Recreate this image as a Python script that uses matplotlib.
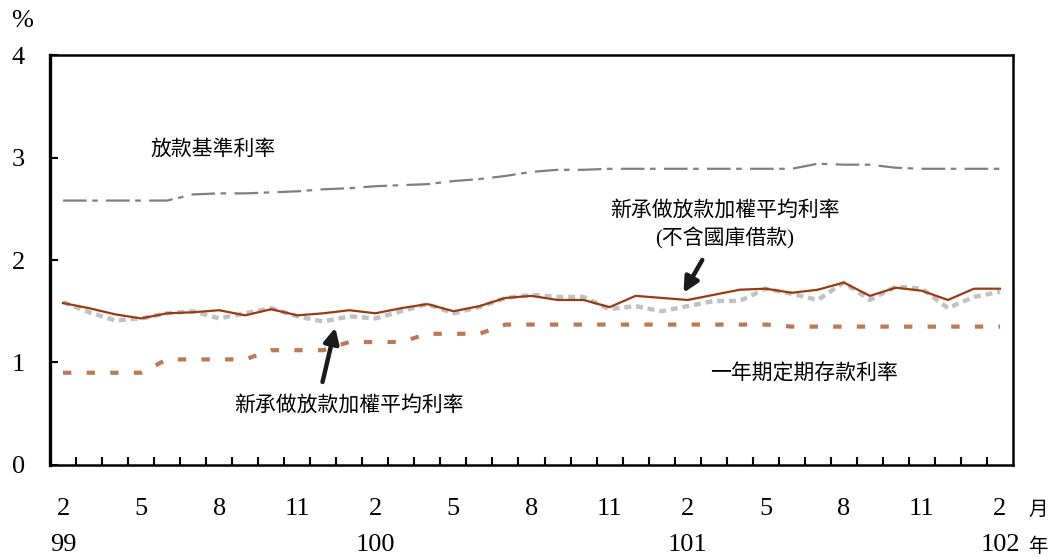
import matplotlib
matplotlib.use('Agg')
import matplotlib.pyplot as plt

plt.rcParams['font.family'] = ['Liberation Serif', 'Noto Sans CJK TC']
plt.rcParams['lines.scale_dashes'] = False

# monthly, 99/2 .. 102/2
months = list(range(37))
month_labels = ['2', '5', '8', '11'] * 4 + ['2']
year_labels = {0: '99', 12: '100', 24: '101', 36: '102'}

base_rate = [2.58, 2.58, 2.58, 2.58, 2.58, 2.64, 2.65, 2.65, 2.66, 2.67,
             2.69, 2.70, 2.72, 2.73, 2.74, 2.77, 2.79, 2.82, 2.86, 2.88,
             2.88, 2.89, 2.89, 2.89, 2.89, 2.89, 2.89, 2.89, 2.89, 2.94,
             2.93, 2.93, 2.90, 2.89, 2.89, 2.89, 2.89]
new_loan_ex = [1.58, 1.53, 1.47, 1.43, 1.48, 1.49, 1.51, 1.46, 1.52, 1.46,
               1.48, 1.51, 1.48, 1.53, 1.57, 1.50, 1.55, 1.63, 1.65, 1.61,
               1.61, 1.54, 1.65, 1.63, 1.61, 1.66, 1.71, 1.72, 1.68, 1.71,
               1.78, 1.65, 1.73, 1.70, 1.61, 1.72, 1.72]
new_loan = [1.59, 1.49, 1.41, 1.43, 1.48, 1.50, 1.43, 1.48, 1.53, 1.45,
            1.40, 1.45, 1.43, 1.50, 1.57, 1.48, 1.54, 1.63, 1.66, 1.64,
            1.64, 1.52, 1.55, 1.50, 1.55, 1.60, 1.60, 1.72, 1.67, 1.61,
            1.78, 1.61, 1.74, 1.72, 1.53, 1.64, 1.69]
deposit = [0.90, 0.90, 0.90, 0.90, 1.03, 1.03, 1.03, 1.03, 1.12, 1.12,
           1.12, 1.20, 1.20, 1.20, 1.28, 1.28, 1.28, 1.37, 1.37, 1.37,
           1.37, 1.37, 1.37, 1.37, 1.37, 1.37, 1.37, 1.37, 1.35, 1.35,
           1.35, 1.35, 1.35, 1.35, 1.35, 1.35, 1.35]

fig = plt.figure(figsize=(10.55, 5.58), dpi=100)
ax = fig.add_axes([0.0474, 0.1667, 0.9128, 0.7347])

ax.plot(months, base_rate, color='#7f7f7f', lw=1.6, dashes=[17, 4, 4, 6])
ax.plot(months, deposit, color='#c07850', lw=3.0, dashes=[6, 11])
ax.plot(months, new_loan, color='#c2c2c6', lw=3.2, dashes=[5, 3.5])
ax.plot(months, new_loan_ex, color='#9b3a0e', lw=1.6)

ax.set_xlim(-0.5, 36.5)
ax.set_ylim(0, 4)
ax.set_yticks([0, 1, 2, 3, 4])
ax.set_xticks([m + 0.5 for m in months[:-1]])
ax.tick_params(axis='x', labelbottom=False)
ax.tick_params(axis='both', direction='in', length=6, width=1.5, color='black')
ax.tick_params(axis='y', labelsize=19, pad=23)
for lbl in ax.get_yticklabels():
    lbl.set_horizontalalignment('center')
for s in ax.spines.values():
    s.set_linewidth(1.8)
ax.spines['left'].set_linewidth(2.4)

cjk = ['Noto Sans CJK TC', 'Liberation Serif']

for k, lab in enumerate(month_labels):
    ax.annotate(lab, xy=(k * 3, 0), xycoords=('data', 'axes fraction'),
                xytext=(0, -32), textcoords='offset points',
                ha='center', va='center', fontsize=19)
for k, lab in year_labels.items():
    ax.annotate(lab, xy=(k, 0), xycoords=('data', 'axes fraction'),
                xytext=(0, -57.5), textcoords='offset points',
                ha='center', va='center', fontsize=19)
fig.text(1038 / 1055, 1 - 509 / 558, '月', ha='center', va='center', fontsize=14, family=cjk)
fig.text(1038 / 1055, 1 - 546 / 558, '年', ha='center', va='center', fontsize=14, family=cjk)
fig.text(22 / 1055, 1 - 21 / 558, '%', ha='center', va='center', fontsize=19)

ax.text(5.76, 3.09, '放款基準利率', ha='center', va='center', fontsize=15, family=cjk)
ax.text(25.41, 2.478, '新承做放款加權平均利率', ha='center', va='center', fontsize=15, family=cjk)
ax.text(25.41, 2.215, '(不含國庫借款)', ha='center', va='center', fontsize=15,
        family=['Liberation Serif', 'Noto Sans CJK TC'])
ax.text(10.97, 0.576, '新承做放款加權平均利率', ha='center', va='center', fontsize=15, family=cjk)
ax.text(28.46, 0.893, '一年期定期存款利率', ha='center', va='center', fontsize=15, family=cjk)

arrow = dict(arrowstyle='-|>,head_length=0.9,head_width=0.45', lw=3.2,
             color='#1a1a1a', shrinkA=0, shrinkB=0)
ax.annotate('', xy=(10.46, 1.34), xytext=(9.97, 0.81), arrowprops=arrow)
ax.annotate('', xy=(23.84, 1.68), xytext=(24.56, 2.0), arrowprops=arrow)

fig.savefig('out.png', dpi=100)
